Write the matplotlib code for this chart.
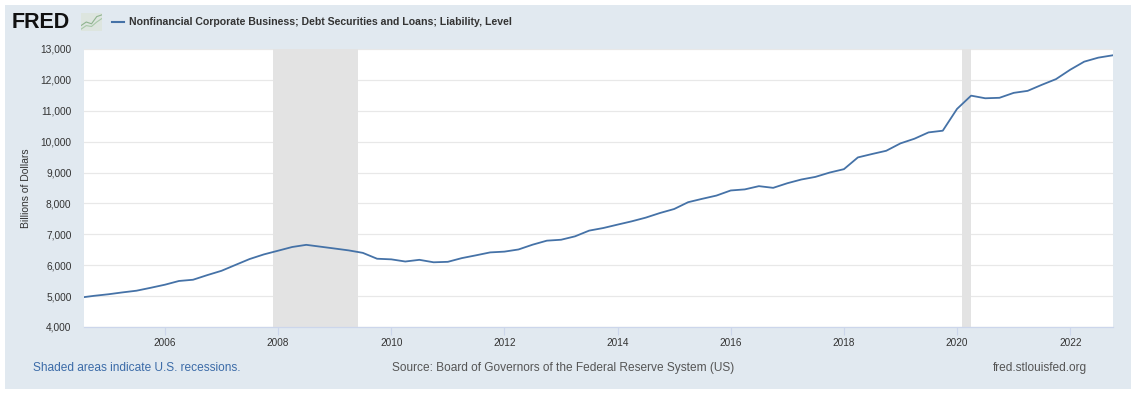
import matplotlib
matplotlib.use("Agg")
import matplotlib.pyplot as plt
from matplotlib.patches import Rectangle
import pandas as pd

plt.rcParams['font.family'] = ['Liberation Sans', 'DejaVu Sans']

# ---- data (billions of dollars, quarterly, 2004Q3 .. 2022Q4) ----
start_quarter = "2004-07-01"
end_quarter = "2022-10-01"
debt_values = [
    4950, 5010, 5060, 5120, 5175, 5270,              # 2004Q3-2005Q4
    5370, 5490, 5530, 5680,                          # 2006
    5820, 6010, 6200, 6350,                          # 2007
    6470, 6590, 6660, 6600,                          # 2008
    6540, 6480, 6400, 6210,                          # 2009
    6190, 6120, 6175, 6095,                          # 2010
    6110, 6230, 6320, 6415,                          # 2011
    6440, 6510, 6665, 6795,                          # 2012
    6825, 6935, 7120, 7205,                          # 2013
    7315, 7420, 7540, 7690,                          # 2014
    7820, 8040, 8150, 8255,                          # 2015
    8420, 8455, 8560, 8505,                          # 2016
    8655, 8775, 8860, 9000,                          # 2017
    9110, 9490, 9600, 9705,                          # 2018
    9945, 10095, 10300, 10355,                       # 2019
    11060, 11490, 11405, 11420,                      # 2020
    11580, 11645, 11840, 12025,                      # 2021
    12330, 12590, 12720, 12795,                      # 2022
]
recession_starts = ["2007-12-01", "2020-02-01"]
recession_ends = ["2009-06-01", "2020-04-01"]
y_ticks = [4000, 5000, 6000, 7000, 8000, 9000, 10000, 11000, 12000, 13000]
x_tick_years = [2006, 2008, 2010, 2012, 2014, 2016, 2018, 2020, 2022]

title = "Nonfinancial Corporate Business; Debt Securities and Loans; Liability, Level"
y_label = "Billions of Dollars"

dates = pd.date_range(start_quarter, end_quarter, freq="QS")

W, H = 1137, 395
fig = plt.figure(figsize=(W / 100, H / 100), dpi=100)
fig.patch.set_facecolor("white")
BG = "#e1e9f0"
fig.patches.append(Rectangle((5 / W, 1 - 389 / H), (1131 - 5) / W, (389 - 5) / H,
                             transform=fig.transFigure, facecolor=BG, edgecolor="none",
                             zorder=-10))

ax = fig.add_axes([84 / W, 1 - 327 / H, (1113 - 84) / W, (327 - 49) / H])
ax.set_facecolor("white")

for s, e in zip(recession_starts, recession_ends):
    ax.axvspan(pd.Timestamp(s), pd.Timestamp(e), color="#e3e3e3", lw=0, zorder=1)

ax.plot(dates, debt_values, color="#4572a7", lw=1.3, zorder=3, solid_joinstyle="round")

ax.set_ylim(4000, 13000)
ax.set_yticks(y_ticks)
ax.set_yticklabels([f"{v:,}" for v in y_ticks])
ax.set_xlim(pd.Timestamp("2004-07-27"), pd.Timestamp("2022-10-04"))
ax.set_xticks([pd.Timestamp(f"{y}-01-01") for y in x_tick_years])
ax.set_xticklabels([str(y) for y in x_tick_years])

ax.grid(axis="y", color="#e8e8e8", lw=0.9, zorder=0)
ax.set_axisbelow(True)
for side in ["top", "right", "left"]:
    ax.spines[side].set_visible(False)
ax.spines["bottom"].set_color("#ccd6eb")
ax.spines["bottom"].set_linewidth(0.9)
ax.tick_params(axis="y", length=0, pad=9, labelsize=7.3, labelcolor="#333333")
ax.tick_params(axis="x", length=6, width=0.8, color="#ccd6eb", pad=2,
               labelsize=7.2, labelcolor="#333333")
ax.set_ylabel(y_label, fontsize=7.5, color="#333333", labelpad=7)

# header
fig.text(12 / W, 1 - 22 / H, "FRED", fontsize=15.5, fontweight="bold", color="#111111",
         va="center", ha="left")
icon = fig.add_axes([81 / W, 1 - 31 / H, 21 / W, 18 / H])
icon.set_facecolor("#dde5df")
icon.plot([0, 1, 2, 3, 4], [0.3, 0.5, 0.4, 0.8, 0.9], color="#8fb38f", lw=0.8)
icon.plot([0, 1, 2, 3, 4], [0.1, 0.3, 0.25, 0.5, 0.7], color="#a8c8a8", lw=0.8)
icon.set_xlim(0, 4); icon.set_ylim(0, 1)
icon.set_xticks([]); icon.set_yticks([])
for sp in icon.spines.values():
    sp.set_visible(False)

fig.lines.append(plt.Line2D([112 / W, 124 / W], [1 - 22 / H, 1 - 22 / H],
                            transform=fig.transFigure, color="#4572a7", lw=1.5))
fig.text(129 / W, 1 - 22 / H, title, fontsize=7.6, fontweight="bold", color="#333333",
         va="center", ha="left")

# footer
fig.text(33 / W, 1 - 368 / H, "Shaded areas indicate U.S. recessions.", fontsize=8.6,
         color="#3b6ba8", va="center", ha="left")
fig.text(563 / W, 1 - 368 / H, "Source: Board of Governors of the Federal Reserve System (US)",
         fontsize=8.6, color="#555555", va="center", ha="center")
fig.text(1087 / W, 1 - 368 / H, "fred.stlouisfed.org", fontsize=8.6,
         color="#555555", va="center", ha="right")

fig.savefig("out.png", dpi=100)
